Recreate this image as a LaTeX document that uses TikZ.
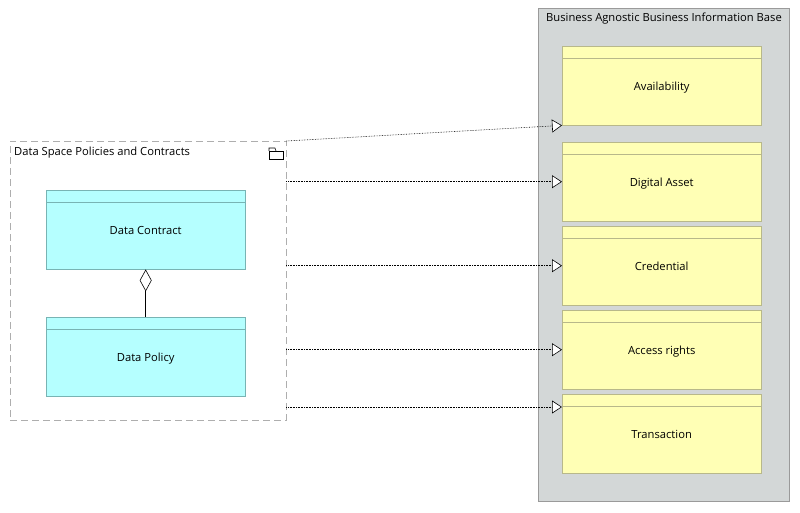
\documentclass[tikz,border=0pt]{standalone}
\usepackage{fontspec}
\setmainfont{Open Sans}
\usepackage{xcolor}
\usetikzlibrary{positioning,calc,arrows.meta}

\definecolor{binfill}{HTML}{D3D7D7}
\definecolor{binline}{HTML}{9A9A9A}
\definecolor{objfill}{HTML}{FFFFB5}
\definecolor{objline}{HTML}{B8B88A}
\definecolor{dsfill}{HTML}{B5FFFF}
\definecolor{dsline}{HTML}{78B4B4}

\tikzset{
  objbox/.style={draw=objline, fill=objfill, rectangle, anchor=north west, inner sep=0,
    minimum width=199pt, minimum height=79pt, text height=9pt, text depth=0pt,
    font=\fontsize{11.2}{13}\selectfont},
  dsbox/.style={objbox, draw=dsline, fill=dsfill},
  realize/.style={densely dotted, semithick, -{Triangle[fill=white, length=10pt, width=13pt]}},
}

\begin{document}
\begin{tikzpicture}[x=1pt, y=-1pt]
  \useasboundingbox (0,0) rectangle (800,513);

  % Container rechts
  \node[draw=binline, fill=binfill, anchor=north west, inner sep=0,
        minimum width=251pt, minimum height=493pt] (bib) at (538,8) {};
  \node[anchor=north west, inner sep=0, font=\fontsize{11.2}{13}\selectfont] at (546,13)
        {Business Agnostic Business Information Base};

  % Gruppe links
  \node[draw=binline!80, dashed, dash pattern=on 7pt off 4pt, anchor=north west, inner sep=0,
        minimum width=276pt, minimum height=279pt] (grp) at (10,141) {};
  \node[anchor=north west, inner sep=0, font=\fontsize{11.2}{13}\selectfont] at (14,146.5)
        {Data Space Policies and Contracts};
  % Ordnersymbol
  \draw[black, line width=0.6pt] (269,151) rectangle (283,159);
  \draw[black, line width=0.6pt] (269,151) -- (269,148) -- (275,148) -- (276,151);

  % Objekte
  \node[objbox] (avail) at (562,46) {Availability};
  \node[objbox] (asset) at (562,142) {Digital Asset};
  \node[objbox] (cred) at (562,226) {Credential};
  \node[objbox] (rights) at (562,310) {Access rights};
  \node[objbox] (trans) at (562,394) {Transaction};
  \node[dsbox] (contract) at (46,190) {Data Contract};
  \node[dsbox] (policy) at (46,317) {Data Policy};

  % Kopfzeilen
  \foreach \n in {avail,asset,cred,rights,trans}
    \draw[objline] ($(\n.north west)+(0,12)$) -- ($(\n.north east)+(0,12)$);
  \foreach \n in {contract,policy}
    \draw[dsline] ($(\n.north west)+(0,12)$) -- ($(\n.north east)+(0,12)$);

  % Aggregation
  \draw[{Diamond[fill=white, length=22pt, width=12pt]}-, line width=0.6pt] (contract.south) -- (policy.north);

  % Realisierungen
  \draw[realize] (grp.north east) -- (avail.south west);
  \draw[realize] (grp.east |- asset.west) -- (asset.west);
  \draw[realize] (grp.east |- cred.west) -- (cred.west);
  \draw[realize] (grp.east |- rights.west) -- (rights.west);
  \coordinate (tin) at ($(trans.north west)+(0,13)$);
  \draw[realize] (grp.east |- tin) -- (tin);
\end{tikzpicture}
\end{document}
